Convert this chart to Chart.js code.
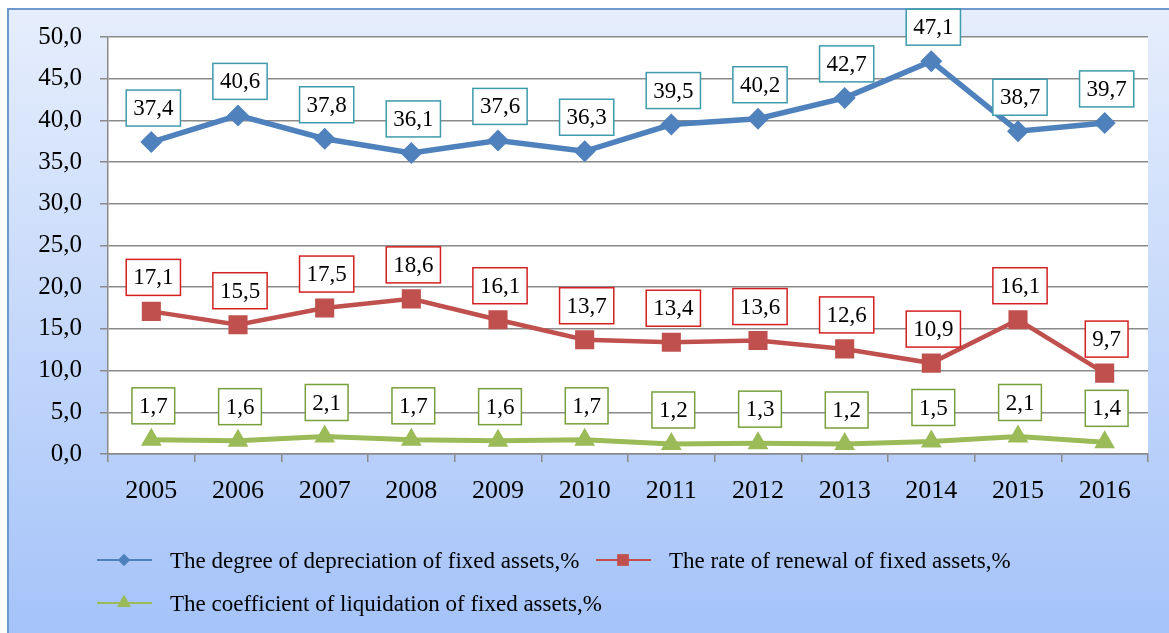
<!DOCTYPE html>
<html>
<head>
<meta charset="utf-8">
<script src="https://cdn.jsdelivr.net/npm/chart.js@4.4.0/dist/chart.umd.min.js"></script>
<style>
  html, body { margin: 0; padding: 0; background: #fff; }
  #wrap { width: 1169px; height: 633px; }
</style>
</head>
<body>
<div id="wrap"><canvas id="chart" width="1169" height="633"></canvas></div>
<script>
var years = ['2005', '2006', '2007', '2008', '2009', '2010', '2011', '2012', '2013', '2014', '2015', '2016'];
var depreciation = [37.4, 40.6, 37.8, 36.1, 37.6, 36.3, 39.5, 40.2, 42.7, 47.1, 38.7, 39.7];
var renewal = [17.1, 15.5, 17.5, 18.6, 16.1, 13.7, 13.4, 13.6, 12.6, 10.9, 16.1, 9.7];
var liquidation = [1.7, 1.6, 2.1, 1.7, 1.6, 1.7, 1.2, 1.3, 1.2, 1.5, 2.1, 1.4];

var seriesNames = [
    'The degree of depreciation of fixed assets,%',
    'The rate of renewal of fixed assets,%',
    'The coefficient of liquidation of fixed assets,%'
];

var colors = {
    blue: '#4f81bd',
    red: '#c0504d',
    green: '#9bbb59',
    grid: '#8a8a8a'
};

var comma = function (v) {
    return v.toFixed(1).replace('.', ',');
};

// background: gradient panel with blue border, white plot area
var backgroundPlugin = {
    id: 'panel',
    beforeDraw: function (chart) {
        var ctx = chart.ctx;
        var a = chart.chartArea;
        ctx.save();
        ctx.fillStyle = '#ffffff';
        ctx.fillRect(0, 0, chart.width, chart.height);
        var g = ctx.createLinearGradient(0, 8, 0, chart.height);
        g.addColorStop(0, '#e6eefc');
        g.addColorStop(1, '#a5c3f9');
        ctx.fillStyle = g;
        ctx.fillRect(8, 9, chart.width, chart.height);
        ctx.strokeStyle = '#6f98cf';
        ctx.lineWidth = 2;
        ctx.strokeRect(8, 9, chart.width + 10, chart.height + 10);
        ctx.fillStyle = '#ffffff';
        ctx.fillRect(a.left, a.top, a.right - a.left, a.bottom - a.top);
        ctx.restore();
    }
};

// boxed value labels above every point
var boxLabelPlugin = {
    id: 'boxLabels',
    afterDatasetsDraw: function (chart) {
        var ctx = chart.ctx;
        ctx.save();
        ctx.font = '23px "Liberation Serif"';
        ctx.textAlign = 'center';
        ctx.textBaseline = 'middle';
        chart.data.datasets.forEach(function (ds, i) {
            var meta = chart.getDatasetMeta(i);
            meta.data.forEach(function (pt, j) {
                var txt = comma(ds.data[j]);
                var w = ctx.measureText(txt).width + 14;
                var h = 36;
                var cx = pt.x + 2;
                var cy = pt.y - 34;
                ctx.fillStyle = '#ffffff';
                ctx.fillRect(cx - w / 2, cy - h / 2, w, h);
                ctx.strokeStyle = ds.labelBorder;
                ctx.lineWidth = 1.5;
                ctx.strokeRect(cx - w / 2, cy - h / 2, w, h);
                ctx.fillStyle = '#000';
                ctx.fillText(txt, cx, cy + 1);
            });
        });
        ctx.restore();
    }
};

// legend: two items on first row, one on second, left aligned
var legendPlugin = {
    id: 'sideLegend',
    afterDraw: function (chart) {
        var ctx = chart.ctx;
        var spots = [[97, 560], [596, 560], [97, 603]];
        ctx.save();
        ctx.font = '23px "Liberation Serif"';
        ctx.textBaseline = 'middle';
        chart.data.datasets.forEach(function (ds, i) {
            var x = spots[i][0], y = spots[i][1];
            ctx.strokeStyle = ds.borderColor;
            ctx.lineWidth = 2;
            ctx.beginPath();
            ctx.moveTo(x, y);
            ctx.lineTo(x + 55, y);
            ctx.stroke();
            ctx.fillStyle = ds.borderColor;
            Chart.helpers.drawPoint(ctx, {
                pointStyle: ds.pointStyle,
                radius: ds.legendRadius,
                borderWidth: 0
            }, x + 27, y);
            ctx.fill();
            ctx.fillStyle = '#000';
            ctx.fillText(ds.label, x + 73, y + 2);
        });
        ctx.restore();
    }
};

var config = {
    type: 'line',
    data: {
        labels: years,
        datasets: [{
            label: seriesNames[0],
            data: depreciation,
            borderColor: colors.blue,
            backgroundColor: colors.blue,
            borderWidth: 5.5,
            pointStyle: 'rectRot',
            pointRadius: 11,
            pointBorderWidth: 0,
            legendRadius: 6,
            labelBorder: '#3e9bab'
        }, {
            label: seriesNames[1],
            data: renewal,
            borderColor: colors.red,
            backgroundColor: colors.red,
            borderWidth: 4.5,
            pointStyle: 'rect',
            pointRadius: 13.5,
            pointBorderWidth: 0,
            legendRadius: 8,
            labelBorder: '#d42020'
        }, {
            label: seriesNames[2],
            data: liquidation,
            borderColor: colors.green,
            backgroundColor: colors.green,
            borderWidth: 5,
            pointStyle: 'triangle',
            pointRadius: 12,
            pointBorderWidth: 0,
            legendRadius: 8,
            labelBorder: '#77a03c'
        }]
    },
    options: {
        responsive: false,
        animation: false,
        layout: {
            padding: { top: 37, right: 21, left: 0, bottom: 109 }
        },
        plugins: {
            legend: { display: false },
            tooltip: { enabled: false }
        },
        scales: {
            x: {
                offset: true,
                grid: {
                    offset: true,
                    drawOnChartArea: false,
                    drawTicks: true,
                    tickLength: 8,
                    color: colors.grid,
                    lineWidth: 1.5
                },
                border: { display: true, color: colors.grid, width: 1.5 },
                ticks: {
                    color: '#000',
                    padding: 14,
                    maxRotation: 0,
                    font: { family: 'Liberation Serif', size: 26 }
                },
                afterFit: function (scale) { scale.height = 70; }
            },
            y: {
                min: 0,
                max: 50,
                ticks: {
                    stepSize: 5,
                    color: '#000',
                    padding: 18,
                    font: { family: 'Liberation Serif', size: 25 },
                    callback: function (v) { return comma(v); }
                },
                grid: {
                    color: colors.grid,
                    lineWidth: 1.5,
                    tickLength: 8
                },
                border: { display: true, color: colors.grid, width: 1.5 },
                afterFit: function (scale) { scale.width = 108; }
            }
        }
    },
    plugins: [backgroundPlugin, boxLabelPlugin, legendPlugin]
};

new Chart(document.getElementById('chart'), config);
</script>
</body>
</html>
